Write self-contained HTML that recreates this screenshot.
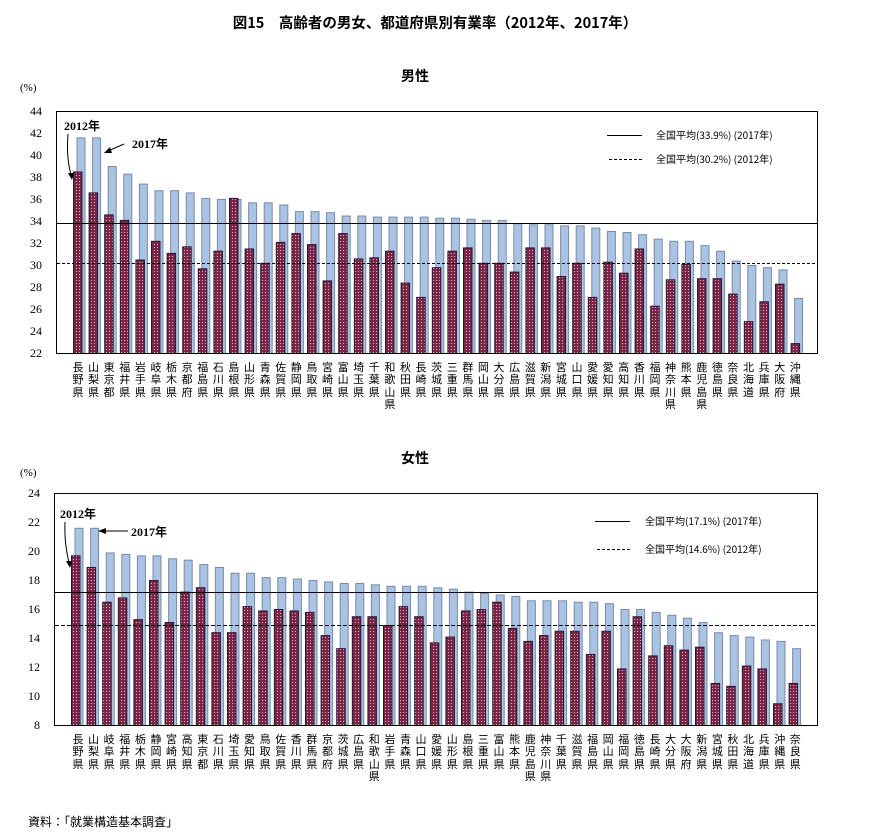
<!DOCTYPE html>
<html><head><meta charset="utf-8"><style>
body{margin:0;background:#fff;width:870px;height:834px;position:relative;overflow:hidden;font-family:"Liberation Serif","Noto Serif CJK SC","Noto Sans CJK JP",serif;color:#000}
.t{position:absolute;white-space:nowrap}
.labs{position:absolute;display:flex;left:70.2px}
.labs div{width:15.6px;font-size:11px;line-height:12.3px;text-align:center;word-break:break-all;font-family:"Noto Sans CJK JP",sans-serif}
svg{position:absolute;left:0;top:0}
</style></head><body>
<div class="t" style="left:0;width:870px;text-align:center;top:12px;font-size:14.5px;font-family:'Noto Sans CJK JP',sans-serif;font-weight:bold">図15　高齢者の男女、都道府県別有業率（2012年、2017年）</div>
<div class="t" style="left:0;width:830px;text-align:center;top:66px;font-size:14px;font-family:'Noto Sans CJK JP',sans-serif;font-weight:bold">男性</div>
<div class="t" style="left:0;width:830px;text-align:center;top:448px;font-size:14px;font-family:'Noto Sans CJK JP',sans-serif;font-weight:bold">女性</div>
<div class="t" style="left:20px;top:82px;font-size:11px">(%)</div>
<div class="t" style="left:20px;top:467px;font-size:11px">(%)</div>
<div class="t" style="left:28px;top:813px;font-size:12px;font-family:'Noto Sans CJK JP',sans-serif">資料：「就業構造基本調査」</div>

<svg width="870" height="834" id="s">
<defs><pattern id="dp" width="3" height="3" patternUnits="userSpaceOnUse"><rect width="3" height="3" fill="#7a2545"/><rect x="1" y="1" width="1" height="1" fill="#e8b0c0"/></pattern></defs>
<g font-size="12" text-anchor="end" font-family="Liberation Serif,serif">
<text x="42" y="115">44</text><text x="42" y="137">42</text><text x="42" y="159">40</text><text x="42" y="181">38</text><text x="42" y="203">36</text><text x="42" y="225">34</text><text x="42" y="247">32</text><text x="42" y="269">30</text><text x="42" y="291">28</text><text x="42" y="313">26</text><text x="42" y="335">24</text><text x="42" y="357">22</text>
<text x="40" y="497">24</text><text x="40" y="526">22</text><text x="40" y="555">20</text><text x="40" y="584">18</text><text x="40" y="613">16</text><text x="40" y="642">14</text><text x="40" y="671">12</text><text x="40" y="700">10</text><text x="40" y="729">8</text>
</g>
<g id="b1"></g><g id="b2"></g>
<rect x="56.5" y="111.5" width="761" height="242" fill="none" stroke="#000"/>
<rect x="54.5" y="493.5" width="763" height="232" fill="none" stroke="#000"/>
<line x1="57" x2="817" y1="223.5" y2="223.5" stroke="#000"/>
<line x1="57" x2="817" y1="263.5" y2="263.5" stroke="#000" stroke-dasharray="3,2"/>
<line x1="55" x2="817" y1="592.5" y2="592.5" stroke="#000"/>
<line x1="55" x2="817" y1="625.5" y2="625.5" stroke="#000" stroke-dasharray="4,2"/>
<line x1="607" x2="642" y1="135.5" y2="135.5" stroke="#000"/>
<line x1="609" x2="642" y1="159.5" y2="159.5" stroke="#000" stroke-dasharray="3,2"/>
<line x1="595" x2="630" y1="521.5" y2="521.5" stroke="#000"/>
<line x1="597" x2="630" y1="549.5" y2="549.5" stroke="#000" stroke-dasharray="3,2"/>
<g font-size="10" font-family="Noto Sans CJK JP,sans-serif">
<text x="656" y="139">全国平均(33.9%) (2017年)</text>
<text x="656" y="163">全国平均(30.2%) (2012年)</text>
<text x="645" y="525">全国平均(17.1%) (2017年)</text>
<text x="645" y="553">全国平均(14.6%) (2012年)</text>
</g>
<g font-size="12" font-weight="bold" font-family="Liberation Serif,Noto Sans CJK JP,serif">
<text x="64" y="130">2012年</text><text x="132" y="148">2017年</text>
<text x="60" y="518">2012年</text><text x="131" y="536">2017年</text>
</g>
<g stroke="#000" fill="none" stroke-width="1">
<path d="M68 134 Q66 160 72 178"/><path d="M124 144 L108 151"/>
<path d="M65 522 Q64 545 70 566"/><path d="M128 531 L100 531"/>
</g>
<g fill="#000"><path d="M72 180 l-4 -7 l6 0z"/><path d="M104 153 l6 -6 l2 6z"/><path d="M70 568 l-4 -7 l6 0z"/><path d="M98 531 l8 -3 l0 6z"/></g>
</svg>

<div class="labs" style="top:361px"><div>長野県</div><div>山梨県</div><div>東京都</div><div>福井県</div><div>岩手県</div><div>岐阜県</div><div>栃木県</div><div>京都府</div><div>福島県</div><div>石川県</div><div>島根県</div><div>山形県</div><div>青森県</div><div>佐賀県</div><div>静岡県</div><div>鳥取県</div><div>宮崎県</div><div>富山県</div><div>埼玉県</div><div>千葉県</div><div>和歌山県</div><div>秋田県</div><div>長崎県</div><div>茨城県</div><div>三重県</div><div>群馬県</div><div>岡山県</div><div>大分県</div><div>広島県</div><div>滋賀県</div><div>新潟県</div><div>宮城県</div><div>山口県</div><div>愛媛県</div><div>愛知県</div><div>高知県</div><div>香川県</div><div>福岡県</div><div>神奈川県</div><div>熊本県</div><div>鹿児島県</div><div>徳島県</div><div>奈良県</div><div>北海道</div><div>兵庫県</div><div>大阪府</div><div>沖縄県</div></div>
<div class="labs" style="top:733px"><div>長野県</div><div>山梨県</div><div>岐阜県</div><div>福井県</div><div>栃木県</div><div>静岡県</div><div>宮崎県</div><div>高知県</div><div>東京都</div><div>石川県</div><div>埼玉県</div><div>愛知県</div><div>鳥取県</div><div>佐賀県</div><div>香川県</div><div>群馬県</div><div>京都府</div><div>茨城県</div><div>広島県</div><div>和歌山県</div><div>岩手県</div><div>青森県</div><div>山口県</div><div>愛媛県</div><div>山形県</div><div>島根県</div><div>三重県</div><div>富山県</div><div>熊本県</div><div>鹿児島県</div><div>神奈川県</div><div>千葉県</div><div>滋賀県</div><div>福島県</div><div>岡山県</div><div>福岡県</div><div>徳島県</div><div>長崎県</div><div>大分県</div><div>大阪府</div><div>新潟県</div><div>宮城県</div><div>秋田県</div><div>北海道</div><div>兵庫県</div><div>沖縄県</div><div>奈良県</div></div>

<script>
var m17=[41.6,41.6,39.0,38.3,37.4,36.8,36.8,36.6,36.1,36.0,36.0,35.7,35.7,35.5,34.9,34.9,34.8,34.5,34.5,34.4,34.4,34.4,34.4,34.3,34.3,34.2,34.1,34.1,33.8,33.7,33.7,33.6,33.6,33.4,33.1,33.0,32.8,32.4,32.2,32.2,31.8,31.3,30.4,30.0,29.8,29.6,27.0];
var m12=[38.5,36.6,34.6,34.1,30.5,32.2,31.1,31.7,29.7,31.3,36.1,31.5,30.2,32.1,32.9,31.9,28.6,32.9,30.6,30.7,31.3,28.4,27.1,29.8,31.3,31.6,30.2,30.2,29.4,31.6,31.6,29.0,30.2,27.1,30.3,29.3,31.5,26.3,28.7,30.1,28.8,28.8,27.4,24.9,26.7,28.3,22.9];
var f17=[21.6,21.6,19.9,19.8,19.7,19.7,19.5,19.4,19.1,18.9,18.5,18.5,18.2,18.2,18.1,18.0,17.9,17.8,17.8,17.7,17.6,17.6,17.6,17.5,17.4,17.2,17.1,17.0,16.9,16.6,16.6,16.6,16.5,16.5,16.4,16.0,16.0,15.8,15.6,15.4,15.1,14.4,14.2,14.1,13.9,13.8,13.3];
var f12=[19.7,18.9,16.5,16.8,15.3,18.0,15.1,17.2,17.5,14.4,14.4,16.2,15.9,16.0,15.9,15.8,14.2,13.3,15.5,15.5,14.9,16.2,15.5,13.7,14.1,15.9,16.0,16.5,14.7,13.8,14.2,14.5,14.5,12.9,14.5,11.9,15.5,12.8,13.5,13.2,13.4,10.9,10.7,12.1,11.9,9.5,10.9];
var NS="http://www.w3.org/2000/svg";
function r(g,x,y,w,h,f,s){var e=document.createElementNS(NS,"rect");e.setAttribute("x",x);e.setAttribute("y",y);e.setAttribute("width",w);e.setAttribute("height",h);e.setAttribute("fill",f);e.setAttribute("stroke",s);g.appendChild(e);}
function draw(id,a,b,base,y0,k,x0){var g=document.getElementById(id);
for(var i=0;i<47;i++){var x=x0+i*15.6;var y=y0-(a[i]-base)*k;r(g,x+.5,y+.5,8,y0-y,"#a8c3e4","#7d8aa0");}
for(var i=0;i<47;i++){var x=x0+i*15.6-3.5;var y=y0-(b[i]-base)*k;r(g,x+.5,y+.5,8.5,y0-y,"url(#dp)","#1c1c3c");}}
draw("b1",m17,m12,22,353,11,76.5);
draw("b2",f17,f12,8,725,14.5,74.5);
</script>
</body></html>
